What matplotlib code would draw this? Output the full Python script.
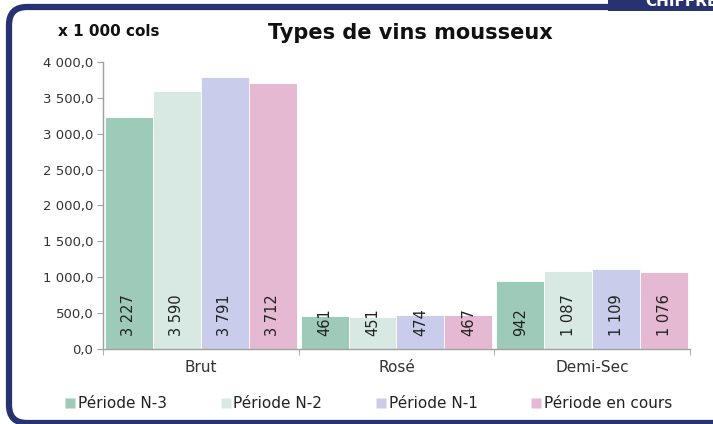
import matplotlib
matplotlib.use("Agg")
import matplotlib.pyplot as plt
import matplotlib.patches as mpatches
from matplotlib.lines import Line2D
import numpy as np

plt.rcParams["font.family"] = ["DejaVu Sans"]

categories = ["Brut", "Rosé", "Demi-Sec"]
series_names = ["Période N-3", "Période N-2", "Période N-1", "Période en cours"]
n3 = [3227, 461, 942]
n2 = [3590, 451, 1087]
n1 = [3791, 474, 1109]
en_cours = [3712, 467, 1076]
series = [n3, n2, n1, en_cours]
colors = ["#9ecbb9", "#d7e9e2", "#c9cdeb", "#e5b9d1"]
navy = "#283270"


def fr_num(v, dec=0):
    s = f"{v:,.{dec}f}"
    return s.replace(",", " ").replace(".", ",")


fig = plt.figure(figsize=(7.13, 4.24), dpi=100)

# navy rounded frame
frame = mpatches.FancyBboxPatch((0.09, 0.01), 7.6, 4.16,
                                boxstyle="round,pad=0,rounding_size=0.18",
                                transform=fig.dpi_scale_trans,
                                facecolor="white", edgecolor=navy, linewidth=4.5,
                                zorder=-2)
fig.patches.append(frame)
tab = mpatches.Rectangle((6.08, 4.13), 1.2, 0.2, transform=fig.dpi_scale_trans,
                         facecolor=navy, edgecolor="none", zorder=-1)
fig.patches.append(tab)
fig.text(6.45 / 7.13, 4.18 / 4.24, "CHIFFRES", color="white", fontsize=11,
         fontweight="bold", ha="left", va="baseline")

ax = fig.add_axes([103 / 713, 1 - 349 / 424, 587 / 713, 287 / 424])
ax.set_facecolor("none")

x = np.arange(len(categories))
w = 0.245
for i, (vals, col) in enumerate(zip(series, colors)):
    pos = x + (i - 1.5) * w
    ax.bar(pos, vals, width=w, color=col, edgecolor="white", linewidth=0.6,
           label=series_names[i], zorder=2)
    for p, v in zip(pos, vals):
        ax.annotate(fr_num(v), (p, 0), xytext=(0, 9), textcoords="offset points",
                    rotation=90, ha="center", va="bottom", fontsize=10.5,
                    color="#222222", zorder=3)

ax.set_xlim(-0.5, 2.5)
ax.set_ylim(0, 4000)
ax.set_yticks(np.arange(0, 4001, 500))
ax.set_yticklabels([fr_num(v, 1) for v in np.arange(0, 4001, 500)])
ax.set_xticks(x)
ax.set_xticklabels(categories)
ax.set_xticks([-0.5, 0.5, 1.5, 2.5], minor=True)
ax.tick_params(axis="x", which="major", length=0, pad=8, labelsize=11, labelcolor="#333333")
ax.tick_params(axis="x", which="minor", length=4, color="#a0a0a0")
ax.tick_params(axis="y", length=4, color="#a0a0a0", labelsize=9.5, labelcolor="#333333", pad=3)
for s in ["top", "right"]:
    ax.spines[s].set_visible(False)
for s in ["left", "bottom"]:
    ax.spines[s].set_color("#a0a0a0")
    ax.spines[s].set_linewidth(1)

fig.text(58 / 713, 1 - 32 / 424, "x 1 000 cols", fontsize=11, fontweight="bold",
         ha="left", va="center", color="#111111")
fig.text(410 / 713, 1 - 33 / 424, "Types de vins mousseux", fontsize=15,
         fontweight="bold", ha="center", va="center", color="#111111")

handles = [Line2D([], [], marker="s", linestyle="none", markersize=6.5,
                  markerfacecolor=c, markeredgecolor="none") for c in colors]
fig.legend(handles, series_names, loc="center", bbox_to_anchor=(0.517, 1 - 404 / 424),
           ncol=4, frameon=False, fontsize=11, handlelength=0.7, handletextpad=0.15,
           columnspacing=3.5, labelcolor="#222222")

fig.savefig("out.png", dpi=100)
